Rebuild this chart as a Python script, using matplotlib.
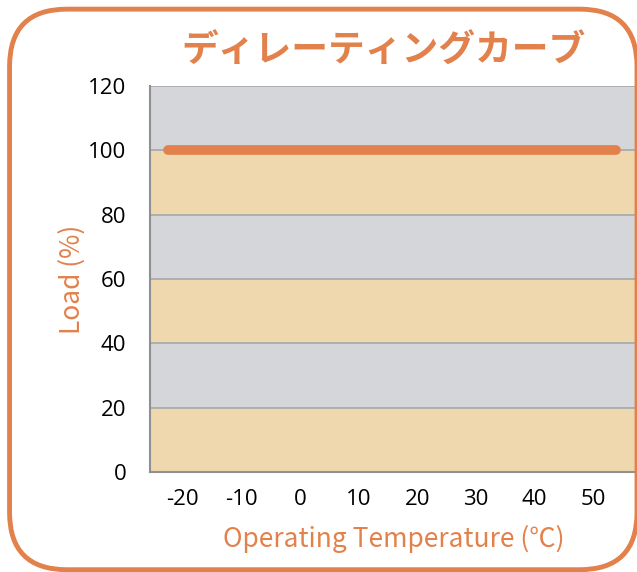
import matplotlib.pyplot as plt
from matplotlib.patches import FancyBboxPatch

plt.rcParams['font.family'] = ['Noto Sans CJK JP', 'DejaVu Sans']
plt.rcParams['axes.unicode_minus'] = False

# data
temp = [-22.5, 54]
load = [100, 100]
xticks = [-20, -10, 0, 10, 20, 30, 40, 50]
yticks = [0, 20, 40, 60, 80, 100, 120]
band_colors = ['#EFD8AE', '#D5D6DA']

orange = '#E2814B'

fig = plt.figure(figsize=(6.37, 5.72), dpi=100)

# rounded frame
frame = FancyBboxPatch((0.015, 0.004), 0.985, 0.98,
                       boxstyle='round,pad=0,rounding_size=0.09',
                       transform=fig.transFigure, fill=False,
                       edgecolor=orange, linewidth=3.5, mutation_aspect=637/572)
fig.patches.append(frame)

ax = fig.add_axes([150/637, 1 - 472/572, 487/637, 386/572])
ax.set_xlim(-25.6, 57.5)
ax.set_ylim(0, 120)

# alternating bands
for i in range(len(yticks) - 1):
    ax.axhspan(yticks[i], yticks[i + 1], color=band_colors[i % 2], zorder=0, lw=0)
for y in yticks[1:]:
    ax.axhline(y, color='#A5A7AA', lw=1.2, zorder=1)

ax.plot(temp, load, color=orange, lw=7, solid_capstyle='round', zorder=3)

ax.set_xticks(xticks)
ax.set_yticks(yticks)
ax.tick_params(length=0, labelsize=16, pad=12)
ax.tick_params(axis='y', pad=17)
for lab in ax.get_xticklabels() + ax.get_yticklabels():
    lab.set_family(['Open Sans', 'DejaVu Sans'])
for s in ['top', 'right']:
    ax.spines[s].set_visible(False)
for s in ['left', 'bottom']:
    ax.spines[s].set_color('#8E9094')
    ax.spines[s].set_linewidth(1.5)

ax.set_xlabel('Operating Temperature (℃)', color=orange, fontsize=19, labelpad=11)
ax.set_ylabel('Load (%)', color=orange, fontsize=19, labelpad=2)

fig.text(383/637, 1 - 51/572, 'ディレーティングカーブ', color=orange, fontsize=26.5,
         fontweight='bold', ha='center', va='center')

fig.savefig('out.png', dpi=100)
